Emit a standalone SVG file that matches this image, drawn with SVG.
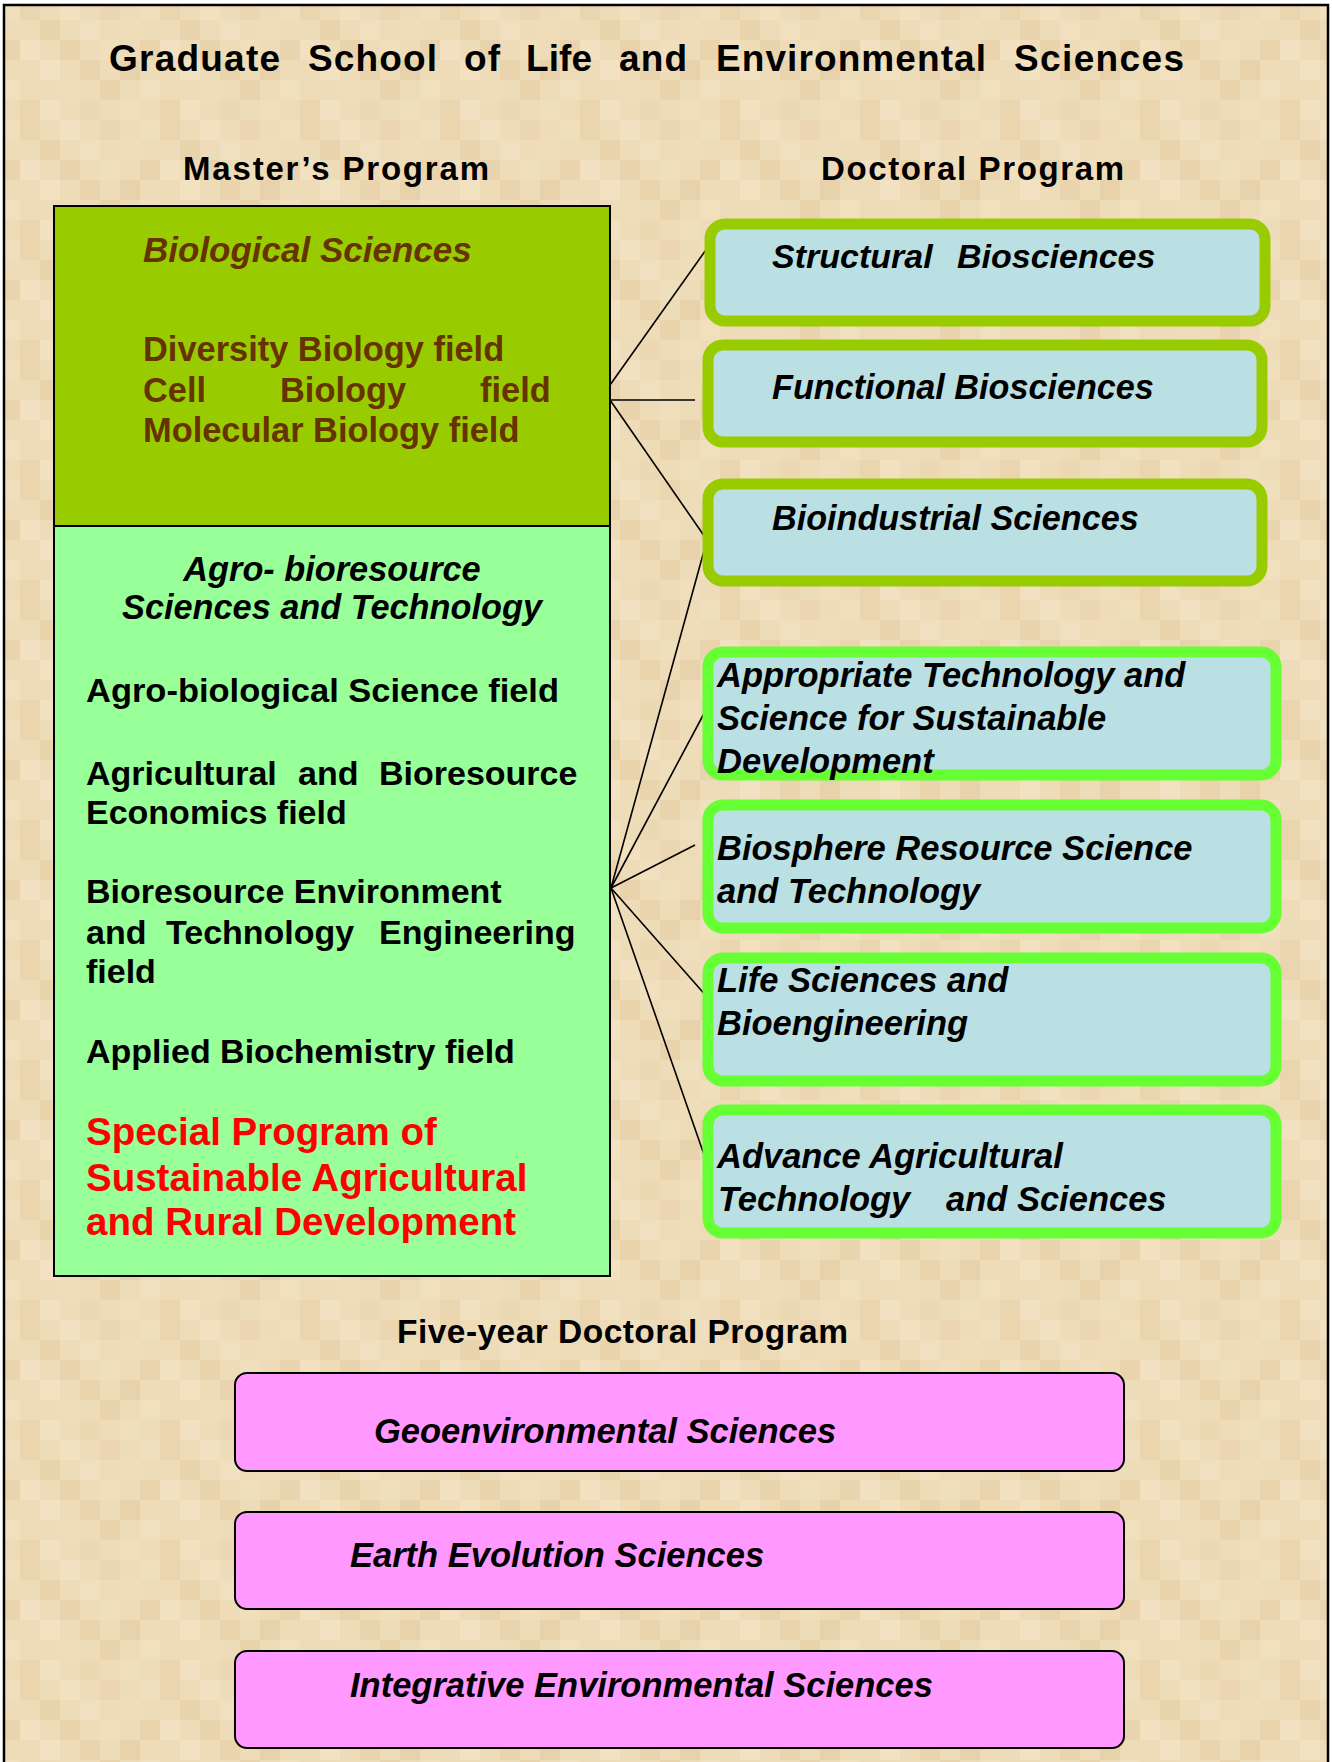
<svg xmlns="http://www.w3.org/2000/svg" width="1332" height="1762" viewBox="0 0 1332 1762">
<style>
.t{font-family:"Liberation Sans",Arial,sans-serif;font-weight:bold;}
.i{font-style:italic;}
.brown{fill:#663300;}
.blk{fill:#000;}
.red{fill:#FF0000;}
.doc1{fill:#BBE0E3;stroke:#99CC00;stroke-width:11;}
.doc2{fill:#BBE0E3;stroke:#66FF33;stroke-width:11;}
.pink{fill:#FF99FF;stroke:#000;stroke-width:2;}
.conn line{stroke:#000;stroke-width:1.6;}
</style>
<defs>
<pattern id="tex" width="140" height="120" patternUnits="userSpaceOnUse">
<rect width="140" height="120" fill="#EEDBB8"/>
<rect x="0" y="0" width="20" height="20" fill="#F0DFBD"/>
<rect x="20" y="0" width="20" height="20" fill="#EAD5AF"/>
<rect x="60" y="0" width="20" height="20" fill="#F1E1C0"/>
<rect x="100" y="0" width="20" height="20" fill="#EBD6B1"/>
<rect x="40" y="20" width="20" height="20" fill="#E9D3AD"/>
<rect x="80" y="20" width="20" height="20" fill="#F1E0BF"/>
<rect x="120" y="20" width="20" height="20" fill="#EFDDBA"/>
<rect x="0" y="40" width="20" height="20" fill="#EAD4AE"/>
<rect x="20" y="40" width="20" height="20" fill="#F1E1C0"/>
<rect x="60" y="40" width="20" height="20" fill="#E9D3AC"/>
<rect x="100" y="40" width="20" height="20" fill="#F0DFBC"/>
<rect x="40" y="60" width="20" height="20" fill="#F2E2C2"/>
<rect x="80" y="60" width="20" height="20" fill="#EAD4AE"/>
<rect x="120" y="60" width="20" height="20" fill="#E8D2AB"/>
<rect x="0" y="80" width="20" height="20" fill="#F0E0BE"/>
<rect x="60" y="80" width="20" height="20" fill="#EFDDBA"/>
<rect x="100" y="80" width="20" height="20" fill="#E9D3AD"/>
<rect x="20" y="100" width="20" height="20" fill="#EAD5AF"/>
<rect x="40" y="100" width="20" height="20" fill="#F1E1C0"/>
<rect x="80" y="100" width="20" height="20" fill="#ECD8B3"/>
<rect x="120" y="100" width="20" height="20" fill="#F0DFBD"/>
</pattern>
</defs>
<rect width="1332" height="1762" fill="#FFFFFF"/>
<rect x="4" y="5" width="1324" height="1780" fill="url(#tex)" stroke="#000" stroke-width="2.5"/>

<g id="title">
<text class="t blk" font-size="37" y="71"><tspan x="109" textLength="171">Graduate</tspan><tspan x="308" textLength="129">School</tspan><tspan x="464" textLength="36">of</tspan><tspan x="526" textLength="66">Life</tspan><tspan x="619" textLength="68">and</tspan><tspan x="716" textLength="270">Environmental</tspan><tspan x="1014" textLength="170">Sciences</tspan></text>
</g>
<g id="masters-heading"><text class="t blk" font-size="33" x="183" y="180" textLength="306" lengthAdjust="spacing">Master’s  Program</text></g>
<g id="doctoral-heading"><text class="t blk" font-size="33" x="821" y="180" textLength="303" lengthAdjust="spacing">Doctoral  Program</text></g>

<g class="conn" id="connectors">
<line x1="610" y1="385" x2="708" y2="247"/>
<line x1="610" y1="400" x2="695" y2="400"/>
<line x1="610" y1="400" x2="707" y2="540"/>
<line x1="707" y1="540" x2="611" y2="888"/>
<line x1="611" y1="888" x2="708" y2="706"/>
<line x1="611" y1="888" x2="695" y2="845"/>
<line x1="611" y1="888" x2="708" y2="998"/>
<line x1="611" y1="888" x2="708" y2="1166"/>
</g>

<g id="biological-sciences">
<rect x="54" y="206" width="556" height="320" fill="#99CC00" stroke="#000" stroke-width="2"/>
<text class="t i brown" font-size="35" x="143" y="262">Biological Sciences</text>
<text class="t brown" font-size="34.4" x="143" y="361">Diversity Biology field</text>
<text class="t brown" font-size="34.4" y="402"><tspan x="143">Cell</tspan><tspan x="280">Biology</tspan><tspan x="480">field</tspan></text>
<text class="t brown" font-size="34.4" x="143" y="442">Molecular Biology field</text>
</g>

<g id="agro-bioresource">
<rect x="54" y="526" width="556" height="750" fill="#99FF99" stroke="#000" stroke-width="2"/>
<text class="t i blk" font-size="34.3" x="332" y="581" text-anchor="middle">Agro- bioresource</text>
<text class="t i blk" font-size="34.3" x="332" y="619" text-anchor="middle">Sciences and Technology</text>
<text class="t blk" font-size="34" x="86" y="702" textLength="473" lengthAdjust="spacingAndGlyphs">Agro-biological Science field</text>
<text class="t blk" font-size="34" y="785"><tspan x="86">Agricultural</tspan><tspan x="298">and</tspan><tspan x="379">Bioresource</tspan></text>
<text class="t blk" font-size="34" x="86" y="824">Economics field</text>
<text class="t blk" font-size="34" x="86" y="903">Bioresource Environment</text>
<text class="t blk" font-size="34" y="944"><tspan x="86">and</tspan><tspan x="166">Technology</tspan><tspan x="379">Engineering</tspan></text>
<text class="t blk" font-size="34" x="86" y="983">field</text>
<text class="t blk" font-size="34" x="86" y="1063">Applied Biochemistry field</text>
<text class="t red" font-size="38.5" x="86" y="1145">Special Program of</text>
<text class="t red" font-size="38.5" x="86" y="1191">Sustainable Agricultural</text>
<text class="t red" font-size="38.5" x="86" y="1235">and Rural Development</text>
</g>

<g id="structural-biosciences">
<rect class="doc1" x="710" y="224" width="555" height="97" rx="15"/>
<text class="t i blk" font-size="34" y="268"><tspan x="772">Structural</tspan><tspan x="957">Biosciences</tspan></text>
</g>
<g id="functional-biosciences">
<rect class="doc1" x="708" y="345" width="554" height="97" rx="15"/>
<text class="t i blk" font-size="34.2" x="772" y="399">Functional Biosciences</text>
</g>
<g id="bioindustrial-sciences">
<rect class="doc1" x="708" y="484" width="554" height="97" rx="15"/>
<text class="t i blk" font-size="34.2" x="772" y="530">Bioindustrial Sciences</text>
</g>
<g id="appropriate-technology">
<rect class="doc2" x="708" y="652" width="568" height="123" rx="15"/>
<text class="t i blk" font-size="34.5" x="717" y="687">Appropriate Technology and</text>
<text class="t i blk" font-size="34.5" x="717" y="730">Science for Sustainable</text>
<text class="t i blk" font-size="34.5" x="717" y="773">Development</text>
</g>
<g id="biosphere-resource">
<rect class="doc2" x="708" y="805" width="568" height="123" rx="15"/>
<text class="t i blk" font-size="34.5" x="717" y="860">Biosphere Resource Science</text>
<text class="t i blk" font-size="34.5" x="717" y="903">and Technology</text>
</g>
<g id="life-sciences">
<rect class="doc2" x="708" y="958" width="568" height="123" rx="15"/>
<text class="t i blk" font-size="34.5" x="717" y="992">Life Sciences and</text>
<text class="t i blk" font-size="34.5" x="717" y="1035">Bioengineering</text>
</g>
<g id="advance-agricultural">
<rect class="doc2" x="708" y="1110" width="568" height="123" rx="15"/>
<text class="t i blk" font-size="34.5" x="717" y="1168">Advance Agricultural</text>
<text class="t i blk" font-size="34.5" y="1211"><tspan x="718">Technology</tspan><tspan x="946">and Sciences</tspan></text>
</g>

<g id="five-year-heading"><text class="t blk" font-size="33.5" x="397" y="1343" textLength="451" lengthAdjust="spacing">Five-year Doctoral Program</text></g>
<g id="geoenvironmental-sciences">
<rect class="pink" x="235" y="1373" width="889" height="98" rx="12"/>
<text class="t i blk" font-size="34.5" x="374" y="1443">Geoenvironmental Sciences</text>
</g>
<g id="earth-evolution-sciences">
<rect class="pink" x="235" y="1512" width="889" height="97" rx="12"/>
<text class="t i blk" font-size="34.5" x="350" y="1567">Earth Evolution Sciences</text>
</g>
<g id="integrative-environmental-sciences">
<rect class="pink" x="235" y="1651" width="889" height="97" rx="12"/>
<text class="t i blk" font-size="34.5" x="350" y="1697">Integrative Environmental Sciences</text>
</g>
</svg>
